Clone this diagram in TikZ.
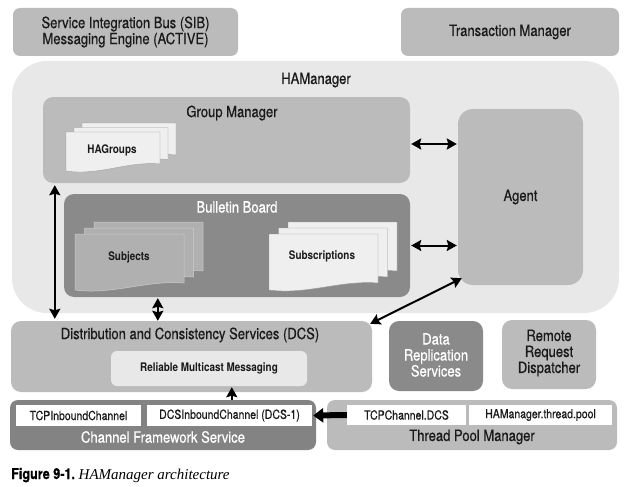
\documentclass[tikz,border=0pt]{standalone}
\usepackage{fontspec}
\setmainfont{TeX Gyre Heros}
\newfontfamily\hv[FakeStretch=0.84, FakeBold=0.6]{TeX Gyre Heros}
\newfontfamily\hvb[FakeStretch=0.84]{TeX Gyre Heros}
\newfontfamily\capserif{Liberation Serif}
\usetikzlibrary{fit,calc,arrows.meta}
\definecolor{gbox}{HTML}{BBBBBB}
\definecolor{ghalo}{HTML}{E8E8E8}
\definecolor{gdark}{HTML}{8A8A8A}
\definecolor{gcfs}{HTML}{838383}
\definecolor{txt}{HTML}{1A1A1A}
\definecolor{pgwhite}{HTML}{EFEFEF}
\definecolor{pgsubj}{HTML}{B0B0B0}
\newcommand\dpage[5]{\path[#5] ({#1},{#2}) -- ({#3},{#2}) -- ({#3},{(#4)-8}) .. controls ({(#1)+0.65*((#3)-(#1))},{(#4)-11}) and ({(#1)+0.35*((#3)-(#1))},{(#4)+4}) .. ({#1},{(#4)-1}) -- cycle;}
\newcommand\dstack[7]{%
  \dpage{(#1)+2*(#5)}{(#2)-2*(#6)}{(#3)+2*(#5)}{(#4)-2*(#6)}{#7}
  \dpage{(#1)+(#5)}{(#2)-(#6)}{(#3)+(#5)}{(#4)-(#6)}{#7}
  \dpage{#1}{#2}{#3}{#4}{#7}}
\begin{document}
\begin{tikzpicture}[x=1pt,y=-1pt,
  stbox/.style={inner sep=0pt, rounded corners=#1},
  stbox/.default=8pt,
  biglbl/.style={font=\hv\fontsize{15.5}{16}\selectfont, text=txt, align=center, inner sep=0pt},
  smlbl/.style={font=\hv\fontsize{12.5}{13}\selectfont, text=txt, inner sep=0pt},
  doclbl/.style={font=\hvb\bfseries\fontsize{11.8}{12}\selectfont, text=txt, inner sep=0pt},
  wbox/.style={inner sep=0pt, fill=white},
  arr/.style={line width=2pt, draw=black, arrows={Stealth[length=10pt,width=11pt,inset=1.5pt]-Stealth[length=10pt,width=11pt,inset=1.5pt]}},
  arr1/.style={line width=2pt, draw=black, arrows={-Stealth[length=10pt,width=11pt,inset=1.5pt]}},
  fatarr/.style={line width=6pt, draw=black, arrows={-Triangle[length=10pt,width=14pt]}}
]
\useasboundingbox (0,0) rectangle (632,487);
\fill[white] (0,0) rectangle (632,487);

% top boxes
\node[stbox=7pt, fill=gbox, fit={(13,8) (238,56)}] (sib) {};
\node[biglbl] (sibl) at (sib.center) {Service Integration Bus (SIB)\\Messaging Engine (ACTIVE)};
\node[stbox=7pt, fill=gbox, fit={(401,8) (619,56)}] (tm) {};
\node[biglbl] (tml) at (tm.center) {Transaction Manager};

% HAManager
\node[stbox=35pt, fill=ghalo, fit={(12,61) (619,313)}] (ha) {};
\node[biglbl] (hal) at (316,80) {HAManager};

% Group Manager
\node[stbox=10pt, fill=gbox, fit={(43,97) (410,183)}] (gm) {};
\node[biglbl] (gml) at (232,113) {Group Manager};
\dstack{66}{132}{160}{172}{8}{4.5}{fill=pgwhite, draw=gray!75, line width=0.4pt}
\node[doclbl] (hag) at (112,150) {HAGroups};

% Bulletin Board
\node[stbox=10pt, fill=gdark, fit={(64,194) (410,297)}] (bb) {};
\node[biglbl, text=white] (bbl) at (237,207) {Bulletin Board};
\dstack{75}{234}{184}{291}{9.5}{6}{fill=pgsubj, draw=gray!40, line width=0.5pt}
\node[doclbl] (subj) at (129,257) {Subjects};
\dstack{269}{234}{378}{291}{9.5}{6}{fill=pgwhite, draw=gray!80, line width=0.4pt}
\node[doclbl] (subs) at (322,256) {Subscriptions};

% Agent
\node[stbox=15pt, fill=gbox, fit={(458,109) (583,285)}] (agent) {};
\node[biglbl] (agentl) at (agent.center) {Agent};

% DCS
\node[stbox=10pt, fill=gbox, fit={(11,321) (372,392)}] (dcs) {};
\node[biglbl] (dcsl) at (190,335) {Distribution and Consistency Services (DCS)};
\node[stbox=6pt, fill=ghalo, fit={(111,351) (307,386)}] (rmm) {};
\node[doclbl] (rmml) at (rmm.center) {Reliable Multicast Messaging};

% DRS and RRD
\node[stbox=10pt, fill=gdark, fit={(389,321) (483,391)}] (drs) {};
\node[biglbl, text=white] (drsl) at (436,355) {Data\\Replication\\Services};
\node[stbox=10pt, fill=gbox, fit={(502,320) (596,389)}] (rrd) {};
\node[biglbl] (rrdl) at (549,353) {Remote\\Request\\Dispatcher};

% Channel Framework Service
\node[stbox=8pt, fill=gcfs, fit={(10,400) (316,450)}] (cfs) {};
\node[wbox, fit={(16,405) (141,426)}] (tcpin) {};
\node[smlbl] (tcpinl) at (tcpin.center) {TCPInboundChannel};
\node[wbox, fit={(147,405) (312,426)}] (dcsin) {};
\node[smlbl] (dcsinl) at (dcsin.center) {DCSInboundChannel (DCS-1)};
\node[biglbl, text=white] (cfsl) at (163,437) {Channel Framework Service};

% Thread Pool Manager
\node[stbox=8pt, fill=gbox, fit={(327,400) (617,450)}] (tpm) {};
\node[wbox, fit={(347,405) (466,425)}] (tcpdcs) {};
\node[smlbl] (tcpdcsl) at (tcpdcs.center) {TCPChannel.DCS};
\node[wbox, fit={(469,405) (612,425)}] (pool) {};
\node[smlbl] (pooll) at (pool.center) {HAManager.thread.pool};
\node[biglbl] (tpml) at (472,437) {Thread Pool Manager};

% connectors
\draw[arr] ($(gm.east)+(1,4)$) -- ($(gm.east -| agent.west)+(-1,4)$);
\draw[arr] ($(bb.east)+(1,0)$) -- ($(bb.east -| agent.west)+(-1,0)$);
\draw[arr] ($(dcs.north east)+(-2,3)$) -- ($(agent.south west)+(4,-7)$);
\coordinate (vA) at ($(gm.south west)+(12,2)$);
\draw[arr] (vA) -- ($(vA |- dcs.north)+(0,-2)$);
\coordinate (vB) at ($(bb.south west)+(94,1)$);
\draw[arr] (vB) -- (vB |- dcs.north);
\coordinate (vC) at ($(cfs.north west)+(222,0)$);
\draw[arr1] (vC) -- ($(vC |- rmm.south)+(0,1)$);
\draw[fatarr] (tcpdcs.west) -- ($(dcsin.east)+(1,0)$);

% caption
\node[anchor=base west, inner sep=0pt] (cap) at (11,479) {{\hv\bfseries\fontsize{15}{15}\selectfont Figure 9-1.} {\capserif\itshape\fontsize{15}{15}\selectfont HAManager architecture}};
\end{tikzpicture}
\end{document}
